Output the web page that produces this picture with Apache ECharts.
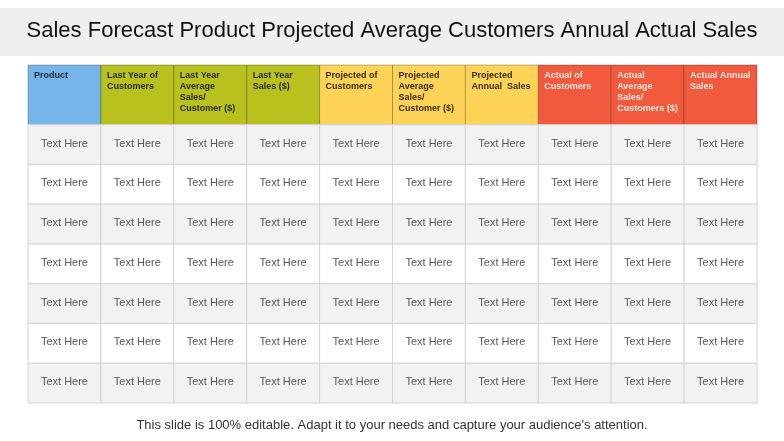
<!DOCTYPE html>
<html><head><meta charset="utf-8">
<script src="https://cdn.jsdelivr.net/npm/echarts@6/dist/echarts.min.js"></script>
<style>html,body{margin:0;padding:0;background:#fff}#c{width:784px;height:441px}</style>
</head><body><div id="c"></div>
<script>
const headers = ["Product","Last Year of\nCustomers","Last Year\nAverage\nSales/\nCustomer ($)","Last Year\nSales ($)","Projected of\nCustomers","Projected\nAverage\nSales/\nCustomer ($)","Projected\nAnnual  Sales","Actual of\nCustomers","Actual\nAverage\nSales/\nCustomers ($)","Actual Annual\nSales"];
const headerColors = ["#76b5ea","#b8c11d","#b8c11d","#b8c11d","#fdd357","#fdd357","#fdd357","#f25a3e","#f25a3e","#f25a3e"];
const headerTextColors = ["#1f2b3a","#2a2a10","#2a2a10","#2a2a10","#3a2e10","#3a2e10","#3a2e10","#fde9df","#fde9df","#fde9df"];
const rowCount = 7;
const cellText = "Text Here";
const title = "Sales Forecast Product Projected Average Customers Annual Actual Sales";
const footer = "This slide is 100% editable. Adapt it to your needs and capture your audience's attention.";

const data = [];
headers.forEach((h,i)=>data.push([i,0,1.5,h,0]));
for(let r=0;r<rowCount;r++) for(let c=0;c<headers.length;c++) data.push([c,1.5+r,2.5+r,cellText,r+1]);

const chart = echarts.init(document.getElementById('c'));
chart.setOption({
  animation:false,
  graphic:[
    {type:'rect',shape:{x:0,y:8,width:784,height:48},style:{fill:'#efefef'}},
    {type:'text',left:'center',top:20,style:{text:title,font:'22px "Liberation Sans", Arial',fill:'#111'}},
    {type:'text',left:'center',top:419,style:{text:footer,font:'13px "Liberation Sans", Arial',fill:'#333'}}
  ],
  grid:{left:28,right:27,top:65,bottom:38},
  xAxis:{type:'value',min:0,max:10,show:false},
  yAxis:{type:'value',min:0,max:8.5,inverse:true,show:false},
  series:[{
    type:'custom',
    data:data,
    renderItem:function(params,api){
      const c=api.value(0), y0=api.value(1), y1=api.value(2), row=api.value(4);
      const p0=api.coord([c,y0]), p1=api.coord([c+1,y1]);
      const w=p1[0]-p0[0], h=p1[1]-p0[1];
      const txt=data[params.dataIndex][3];
      if(row===0){
        return {type:'group',children:[
          {type:'rect',shape:{x:p0[0],y:p0[1],width:w,height:h},style:{fill:headerColors[c],stroke:'rgba(0,0,0,0.25)',lineWidth:1}},
          {type:'text',x:p0[0]+6,y:p0[1]+5,style:{text:txt,font:'bold 9px "Liberation Sans", Arial',fill:headerTextColors[c],lineHeight:11,verticalAlign:'top'}}
        ]};
      }
      return {type:'group',children:[
        {type:'rect',shape:{x:p0[0],y:p0[1],width:w,height:h},style:{fill:row%2===1?'#f2f2f2':'#ffffff',stroke:'#d4d4d4',lineWidth:1}},
        {type:'text',x:p0[0]+w/2,y:p0[1]+h/2-1,style:{text:txt,font:'11px "Liberation Sans", Arial',fill:'#595959',align:'center',verticalAlign:'middle'}}
      ]};
    }
  }]
});
</script></body></html>
